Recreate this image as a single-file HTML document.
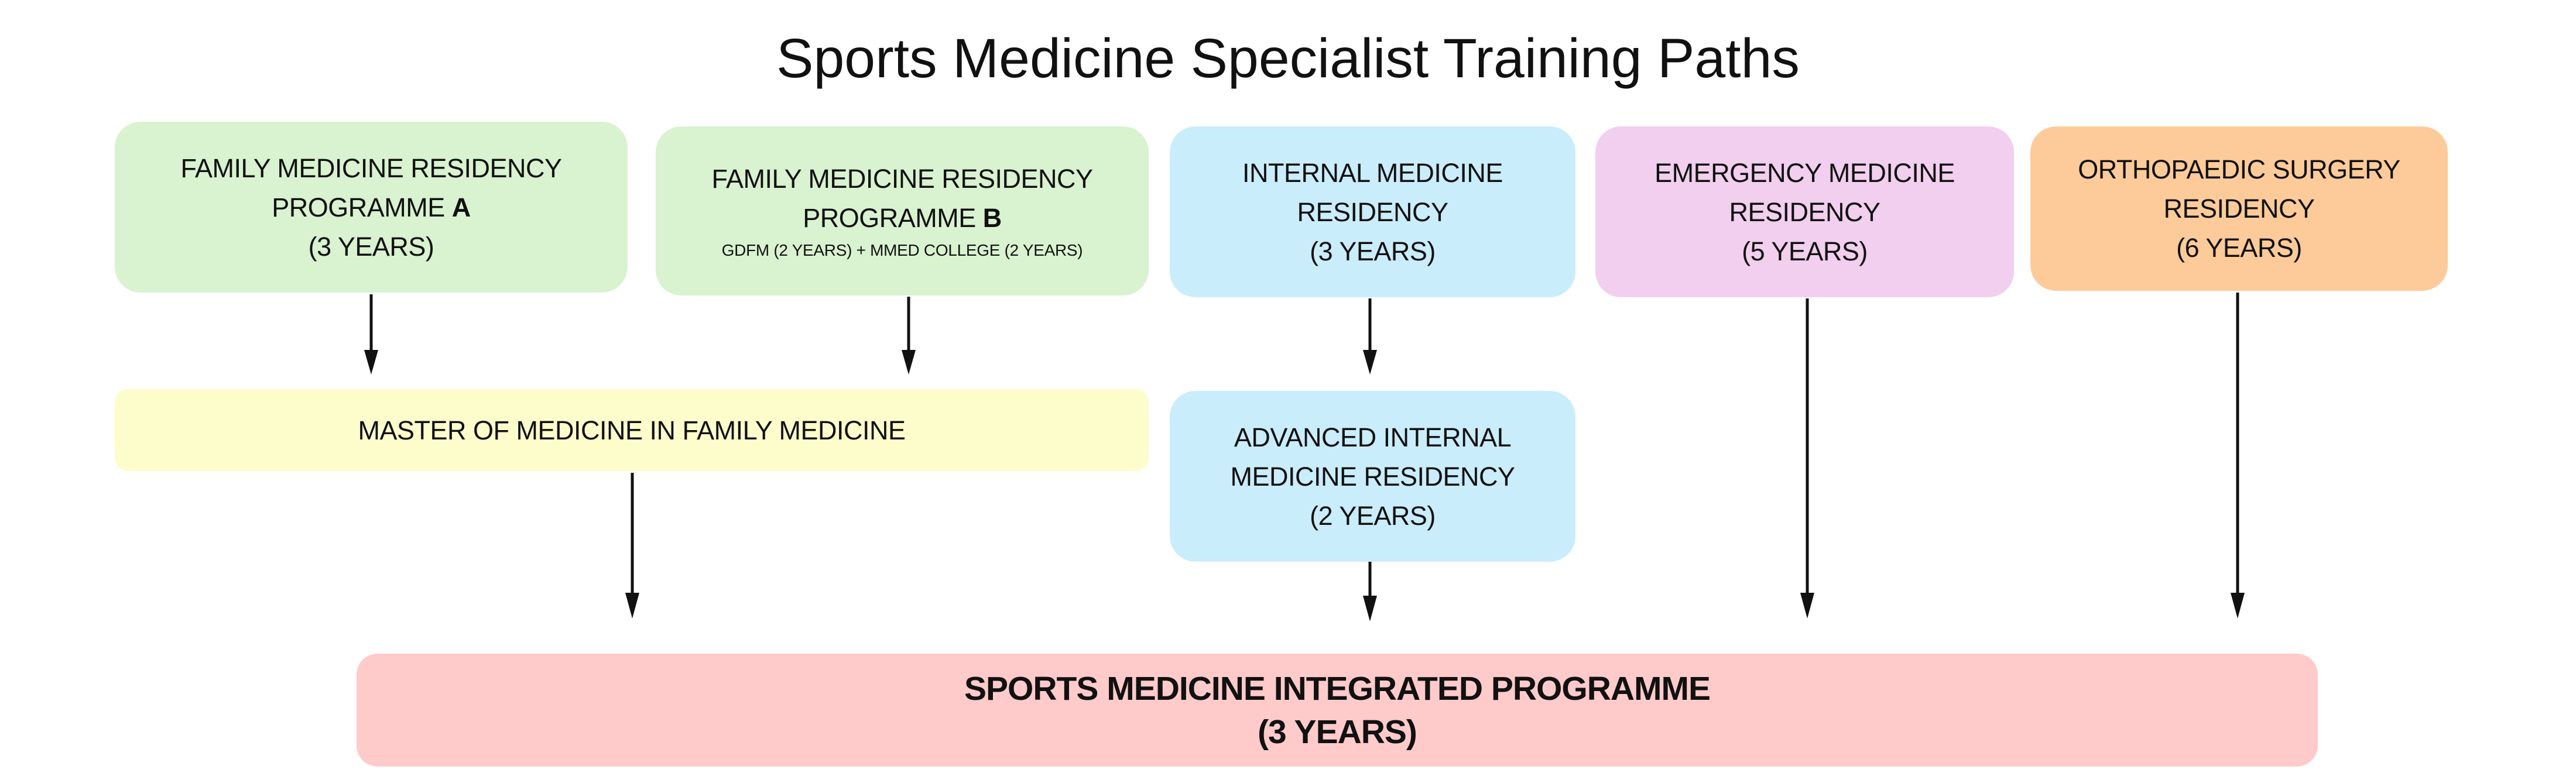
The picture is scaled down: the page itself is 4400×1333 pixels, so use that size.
<!DOCTYPE html>
<html><head><meta charset="utf-8"><style>
html,body{margin:0;padding:0;background:#fff;}
body{width:4400px;height:1333px;position:relative;overflow:hidden;font-family:"Liberation Sans",sans-serif;color:#111;}
.t{position:absolute;left:0;width:4400px;top:46px;text-align:center;font-size:95px;}
.b{position:absolute;display:flex;flex-direction:column;justify-content:center;align-items:center;text-align:center;font-size:45px;line-height:67px;letter-spacing:-0.5px;box-sizing:border-box;}
.g{background:#d9f2d0;border-radius:44px;}
.bl{background:#caedfb;border-radius:44px;}
.p{background:#f2cfee;border-radius:44px;}
.o{background:#fdcb99;border-radius:44px;}
.y{background:#fdfdcc;border-radius:22px;}
.r{background:#ffcaca;border-radius:36px;font-weight:bold;font-size:57px;line-height:74px;letter-spacing:-1px;}
svg{position:absolute;left:0;top:0;}
</style></head><body>
<div class="t">Sports Medicine Specialist Training Paths</div>
<div class="b g" style="left:196px;top:208px;width:876px;height:292px;"><div>FAMILY MEDICINE RESIDENCY</div><div>PROGRAMME <b>A</b></div><div>(3 YEARS)</div></div>
<div class="b g" style="left:1120px;top:216px;width:842px;height:289px;"><div>FAMILY MEDICINE RESIDENCY</div><div>PROGRAMME <b>B</b></div><div style="font-size:28px;line-height:44px;letter-spacing:-0.3px;">GDFM (2 YEARS) + MMED COLLEGE (2 YEARS)</div></div>
<div class="b bl" style="left:1998px;top:216px;width:693px;height:292px;"><div>INTERNAL MEDICINE</div><div>RESIDENCY</div><div>(3 YEARS)</div></div>
<div class="b p" style="left:2725px;top:216px;width:715px;height:292px;"><div>EMERGENCY MEDICINE</div><div>RESIDENCY</div><div>(5 YEARS)</div></div>
<div class="b o" style="left:3468px;top:216px;width:713px;height:281px;"><div>ORTHOPAEDIC SURGERY</div><div>RESIDENCY</div><div>(6 YEARS)</div></div>
<div class="b y" style="left:196px;top:665px;width:1766px;height:140px;"><div>MASTER OF MEDICINE IN FAMILY MEDICINE</div></div>
<div class="b bl" style="left:1998px;top:668px;width:693px;height:292px;"><div>ADVANCED INTERNAL</div><div>MEDICINE RESIDENCY</div><div>(2 YEARS)</div></div>
<div class="b r" style="left:609px;top:1117px;width:3350px;height:193px;"><div>SPORTS MEDICINE INTEGRATED PROGRAMME</div><div>(3 YEARS)</div></div>
<svg width="4400" height="1333">
<g stroke="#111" stroke-width="5" fill="none">
<line x1="634" y1="503" x2="634" y2="600"/>
<line x1="1552" y1="507" x2="1552" y2="600"/>
<line x1="2340" y1="510" x2="2340" y2="600"/>
<line x1="1080" y1="808" x2="1080" y2="1015"/>
<line x1="2340" y1="960" x2="2340" y2="1020"/>
<line x1="3087" y1="510" x2="3087" y2="1015"/>
<line x1="3822" y1="500" x2="3822" y2="1015"/>
</g>
<g fill="#111">
<path d="M622,598 L646,598 L634,640 Z"/>
<path d="M1540,598 L1564,598 L1552,640 Z"/>
<path d="M2328,598 L2352,598 L2340,640 Z"/>
<path d="M1068,1013 L1092,1013 L1080,1057 Z"/>
<path d="M2328,1018 L2352,1018 L2340,1062 Z"/>
<path d="M3075,1013 L3099,1013 L3087,1057 Z"/>
<path d="M3810,1013 L3834,1013 L3822,1057 Z"/>
</g>
</svg>
</body></html>
